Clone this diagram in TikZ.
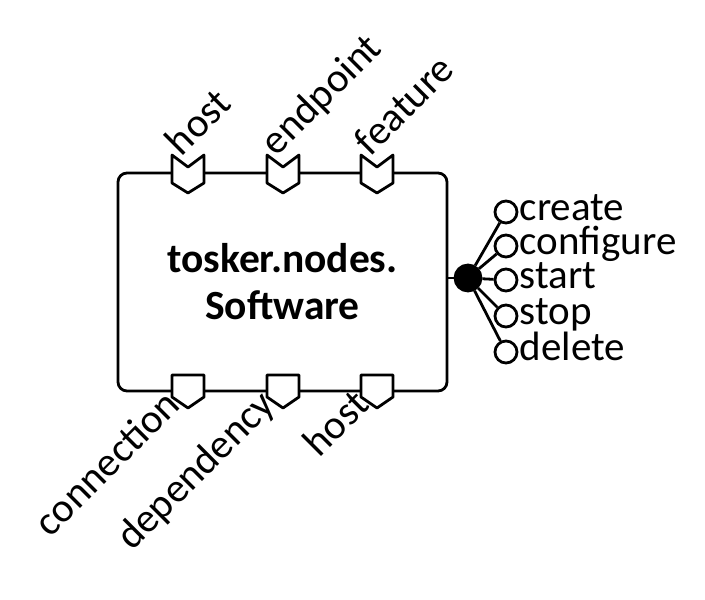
\documentclass[tikz,border=0pt]{standalone}
\usepackage{fontspec}
\setmainfont{Carlito}
\begin{document}
\begin{tikzpicture}[x=1pt,y=-1pt,line width=2.8pt,line join=round]

	% Styles
	\tikzstyle{component} = [draw,rounded corners=9pt,minimum width=329pt,minimum height=218pt,align=center,font=\fontsize{41.5}{47}\selectfont\bfseries]
	\tikzstyle{port} = [draw,fill=white]
	\tikzstyle{caplabel} = [anchor=base west,rotate=45,inner sep=0pt,font=\fontsize{41}{41}\selectfont]
	\tikzstyle{reqlabel} = [anchor=base east,rotate=45,inner sep=0pt,font=\fontsize{41}{41}\selectfont]
	\tikzstyle{ifdot} = [draw,shape=circle,fill=black,minimum size=26pt,inner sep=0pt]
	\tikzstyle{op} = [draw,shape=circle,fill=white,minimum size=22pt,inner sep=0pt]
	\tikzstyle{oplabel} = [anchor=base west,inner sep=0pt,font=\fontsize{41}{41}\selectfont]

	\useasboundingbox (0,0) rectangle (705,600);

	% Knoten
	\node at (282.5,282) [component] (sw) {tosker.nodes.\\Software};

	% Capabilities
	\foreach \x/\cap in {188/host,283/endpoint,377/feature} {
		\draw[port] (\x-16,155) -- (\x,167) -- (\x+16,155) -- (\x+16,183) -- (\x,193) -- (\x-16,183) -- cycle;
		\node at (\x-7,158) [caplabel] (cap-\cap) {\cap};
	}

	% Requirements
	\foreach \x/\req in {188/connection,283/dependency,377/host} {
		\draw[port] (\x-16,375) -- (\x+16,375) -- (\x+16,397) -- (\x,408) -- (\x-16,397) -- cycle;
		\node at (\x-5,406) [reqlabel] (req-\req) {\req};
	}

	% Interface
	\node at (468,278) [ifdot] (dot) {};
	\draw (sw.east |- dot) -- (dot);
	\foreach \y/\op in {212/create,246/configure,280/start,316/stop,352/delete} {
		\node at (506,\y) [op] (\op) {};
		\draw (dot) -- (\op);
		\node at ([xshift=0pt,yshift=-8pt]\op.east) [oplabel] (\op-lbl) {\op};
	}

\end{tikzpicture}
\end{document}
